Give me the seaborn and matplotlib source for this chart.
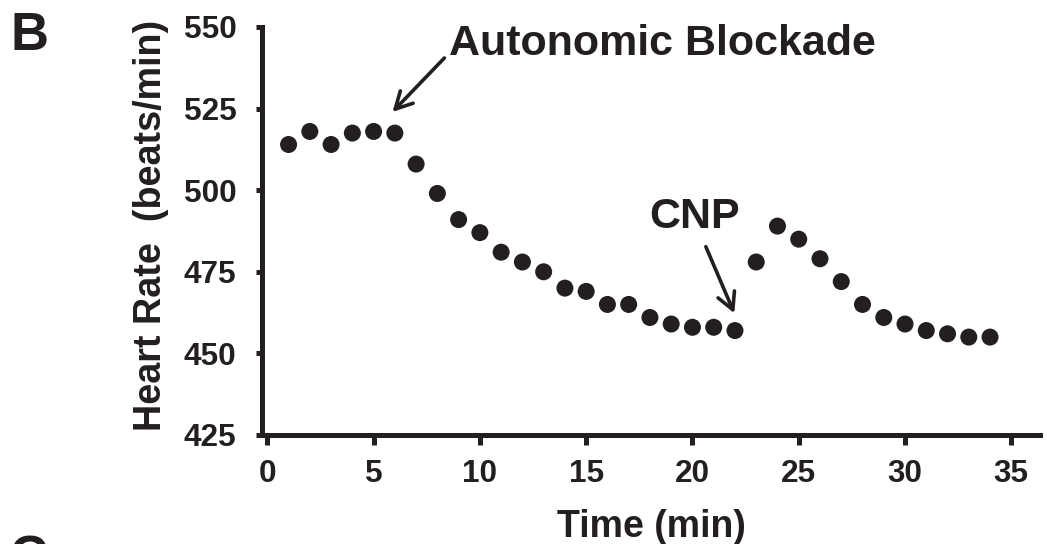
import matplotlib
matplotlib.use("Agg")
import matplotlib.pyplot as plt
import seaborn as sns
import pandas as pd

# ---- data ----
time_min = [1, 2, 3, 4, 5, 6, 7, 8, 9, 10, 11, 12, 13, 14, 15, 16, 17,
            18, 19, 20, 21, 22, 23, 24, 25, 26, 27, 28, 29, 30, 31, 32, 33, 34]
heart_rate = [514, 518, 514, 517.5, 518, 517.5, 508, 499, 491, 487, 481, 478,
              475, 470, 469, 465, 465, 461, 459, 458, 458, 457, 478, 489,
              485, 479, 472, 465, 461, 459, 457, 456, 455, 455]
x_ticks = [0, 5, 10, 15, 20, 25, 30, 35]
y_ticks = [425, 450, 475, 500, 525, 550]

df = pd.DataFrame({"Time (min)": time_min, "Heart Rate (beats/min)": heart_rate})

sns.set_theme(style="ticks")
plt.rcParams["font.family"] = ["Liberation Sans", "DejaVu Sans"]
plt.rcParams["font.weight"] = "bold"

INK = "#231f20"

fig = plt.figure(figsize=(10.47, 5.44), dpi=100)
ax = fig.add_axes([262 / 1047, 1 - 435 / 544, (1040 - 262) / 1047, (435 - 27) / 544])

sns.scatterplot(data=df, x="Time (min)", y="Heart Rate (beats/min)", ax=ax,
                color=INK, s=150, linewidth=0, edgecolor="none", clip_on=False)

ax.set_xlim(-0.25, 36.35)
ax.set_ylim(425, 550)
ax.set_xticks(x_ticks)
ax.set_yticks(y_ticks)

for side in ("top", "right"):
    ax.spines[side].set_visible(False)
for side in ("left", "bottom"):
    ax.spines[side].set_linewidth(3.6)
    ax.spines[side].set_color(INK)
    ax.spines[side].set_capstyle("projecting")

ax.tick_params(axis="both", direction="out", width=3.6, color=INK,
               labelsize=22.7, labelcolor=INK)
ax.tick_params(axis="x", length=7, pad=10)
ax.tick_params(axis="y", length=4.5, pad=14)
for lab in ax.get_xticklabels() + ax.get_yticklabels():
    lab.set_fontweight("bold")

ax.set_xlabel("Time (min)", fontsize=27, fontweight="bold", color=INK)
ax.set_ylabel("Heart Rate  (beats/min)", fontsize=27.2, fontweight="bold", color=INK)
ax.xaxis.set_label_coords(0.5, -0.182)
ax.yaxis.set_label_coords(-0.120, 0.514)

arrow_kw = dict(arrowstyle="->,head_length=0.6,head_width=0.32", color=INK, lw=2.6,
                shrinkA=0, shrinkB=0, mutation_scale=20)
ax.annotate("", xy=(5.89, 524.0), xytext=(8.33, 540.5), arrowprops=arrow_kw,
            annotation_clip=False)
ax.text(8.56, 541.4, "Autonomic Blockade", fontsize=31, fontweight="bold",
        color=INK, ha="left", va="baseline", clip_on=False)
ax.annotate("", xy=(21.97, 462.3), xytext=(20.63, 482.7), arrowprops=arrow_kw,
            annotation_clip=False)
ax.text(17.97, 488.4, "CNP", fontsize=31, fontweight="bold",
        color=INK, ha="left", va="baseline", clip_on=False)

fig.text(10 / 1047, 1 - 50 / 544, "B", fontsize=38, fontweight="bold",
         color=INK, ha="left", va="baseline")
fig.text(10 / 1047, 1 - 573 / 544, "C", fontsize=38, fontweight="bold",
         color=INK, ha="left", va="baseline")

fig.savefig("out.png", dpi=100)
